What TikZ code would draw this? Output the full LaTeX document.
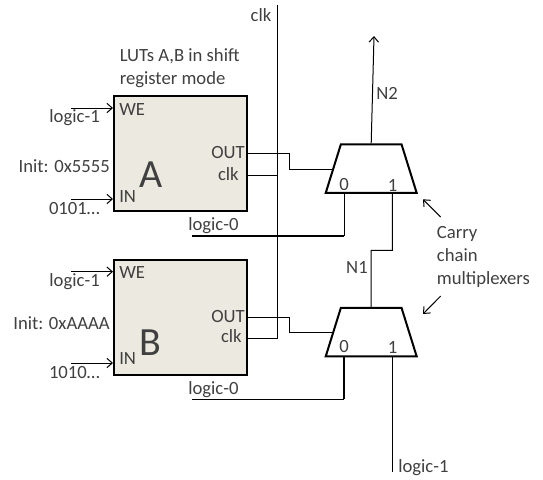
\documentclass[tikz,border=0pt]{standalone}
\usepackage{fontspec}
\setmainfont{Carlito}
\usepackage{xcolor}
\usepackage{tikz}
\usetikzlibrary{arrows,arrows.meta}
\usetikzlibrary{shapes.geometric}
\usetikzlibrary{positioning}
\definecolor{lutfill}{HTML}{ECEAE0}
\definecolor{labelgray}{HTML}{404040}
\begin{document}
\begin{tikzpicture}[x=0.75pt, y=-0.75pt, font=\fontsize{14}{17.2}\selectfont, text=labelgray,
	wire/.style={line width=0.75pt},
	thickwire/.style={line width=1.5pt},
	arrow/.style={line width=0.75pt,-{Straight Barb[length=4pt,width=7pt]}},
	lutbox/.style={draw, line width=1.5pt, fill=lutfill, minimum width=100pt, minimum height=86.3pt, inner sep=0},
	muxbox/.style={draw, line width=1.5pt, trapezium, trapezium stretches=true, trapezium left angle=76, trapezium right angle=76, minimum width=68.25pt, minimum height=36.4pt, inner sep=2pt},
	lab/.style={inner sep=0}]
	\useasboundingbox (0,0) rectangle (543,479);

	\node[lutbox] (lutA) at (180.3,153.5) {};
	\node[lutbox] (lutB) at (180.3,317.5) {};
	\node[muxbox] (muxtop) at (371.2,168.7) {};
	\node[muxbox] (muxbot) at (371.2,332.2) {};

	\node[lab, font=\fontsize{30}{30}\selectfont] (nameA) at (150.7,174.5) {A};
	\node[lab, font=\fontsize{30}{30}\selectfont] (nameB) at (150,342.5) {B};

	\node[lab, anchor=west] (weA) at (119,110) {WE};
	\node[lab, anchor=west] (inA) at (119,197) {IN};
	\node[lab, anchor=east] (outA) at (245,153) {OUT};
	\node[lab, anchor=east] (clkA) at (239,174) {clk};
	\node[lab, anchor=west] (weB) at (119,273) {WE};
	\node[lab, anchor=west] (inB) at (119,359) {IN};
	\node[lab, anchor=east] (outB) at (245,317) {OUT};
	\node[lab, anchor=east] (clkB) at (242,336) {clk};

	\node[lab, anchor=east] (oneA) at (100,118) {logic-1};
	\node[lab, anchor=east] (initA) at (110,166) {Init: 0x5555};
	\node[lab, anchor=east] (seqA) at (100,209) {0101…};
	\node[lab, anchor=east] (oneB) at (100,282) {logic-1};
	\node[lab, anchor=east] (initB) at (110,323) {Init: 0xAAAA};
	\node[lab, anchor=east] (seqB) at (100,373) {1010…};
	\node[lab, anchor=west] (zeroA) at (188,226) {logic-0};
	\node[lab, anchor=west] (zeroB) at (188,390) {logic-0};
	\node[lab, anchor=west] (onebot) at (398,468) {logic-1};
	\node[lab] (clktop) at (261,15) {clk};
	\node[lab, anchor=west, align=left] (lutnote) at (119.5,68.5) {LUTs A,B in shift\\register mode};
	\node[lab, anchor=west, align=left] (carrynote) at (436.7,257) {Carry\\chain\\multiplexers};
	\node[lab, anchor=west] (ntwo) at (376,93) {N2};
	\node[lab, anchor=east] (none) at (368,267) {N1};
	\node[lab] (topzero) at (344,185) {0};
	\node[lab] (topone) at (392.5,185) {1};
	\node[lab] (botzero) at (344,347) {0};
	\node[lab] (botone) at (392.5,347) {1};

	\coordinate (clkend) at (277,5);
	\coordinate (ntwoend) at (374,36);
	\coordinate (pintopzero) at (344,193);
	\coordinate (pintopone) at (392.3,193);
	\coordinate (pinbotzero) at (344,356.4);
	\coordinate (pinbotone) at (392.3,356.4);
	\coordinate (pintopin) at (331.5,169);
	\coordinate (pinbotin) at (331.5,332.3);

	\draw[arrow] (71,108)--(113,108);
	\draw[arrow] (71,199)--(113,199);
	\draw[arrow] (71,271.7)--(113,271.7);
	\draw[arrow] (71,363)--(113,363);

	\draw[wire] (clkend)--(277,338.7)--(lutB.east |- 277,338.7);
	\draw[wire] (lutA.east |- 0,175)--(277,175);
	\draw[wire] (lutA.east |- 0,153.7)--(289.3,153.7)--(289.3,169)--(pintopin);
	\draw[wire] (lutB.east |- 0,317.3)--(289.3,317.3)--(289.3,332.3)--(pinbotin);

	\draw[thickwire] (192,235.5)--(344,235.5);
	\draw[wire] (344,235.5)--(pintopzero);
	\draw[wire] (192,399)--(344,399);
	\draw[thickwire] (344,399)--(pinbotzero);

	\draw[wire] (pintopone)--(392.3,250.3)--(371,250.3)--(muxbot.north);
	\draw[wire] (pinbotone)--(392.3,471.7);
	\draw[arrow] (muxtop.north)--(ntwoend);

	\draw[arrow] (440.7,217)--(423,199.3);
	\draw[arrow] (440.7,296)--(423,314);
\end{tikzpicture}
\end{document}
